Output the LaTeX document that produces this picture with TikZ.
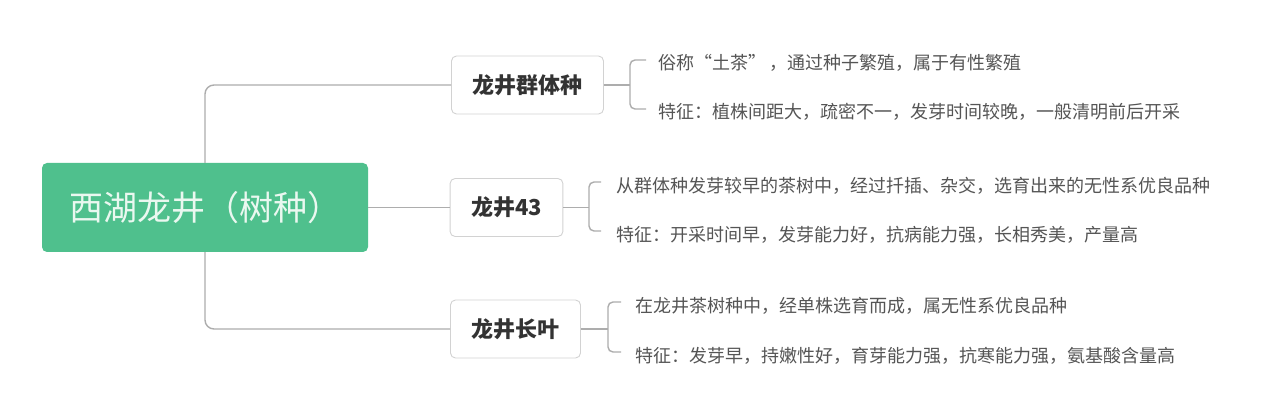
\documentclass[tikz,border=0pt]{standalone}
\usepackage{fontspec}
\setmainfont{Noto Sans CJK SC}
\definecolor{rootgreen}{HTML}{4FC08D}
\definecolor{roottext}{HTML}{EAF8F0}
\definecolor{linegray}{HTML}{ADADAD}
\definecolor{boxgray}{HTML}{D2D2D2}
\definecolor{childtext}{HTML}{333333}
\definecolor{leaftext}{HTML}{555555}
\tikzset{
  rootbox/.style={fill=rootgreen, draw=none, rounded corners=5pt, text=roottext,
    font=\fontsize{34}{40}\selectfont, minimum width=326pt, minimum height=89pt, inner sep=0pt},
  childbox/.style={draw=boxgray, line width=0.9pt, fill=white, rounded corners=5pt, text=childtext,
    font=\fontsize{22}{26}\selectfont\bfseries, minimum height=58pt, inner xsep=21pt, inner ysep=0pt},
  leaf/.style={anchor=west, text=leaftext, font=\fontsize{18}{22}\selectfont, inner sep=0pt},
  conn/.style={draw=linegray, line width=1.4pt},
}
\begin{document}
\begin{tikzpicture}[x=1pt, y=-1pt]
\useasboundingbox (0,0) rectangle (1280,414);
\fill[white] (0,0) rectangle (1280,414);

\node[rootbox] (root) at (205,207.5) {西湖龙井（树种）};

\node[childbox] (c1) at (527.5,85) {龙井群体种};
\node[childbox] (c2) at (506.5,207.5) {龙井43};
\node[childbox] (c3) at (515.5,329) {龙井长叶};

\draw[conn, rounded corners=9pt] (root.north) |- (c1.west);
\draw[conn] (root.east) -- (c2.west);
\draw[conn, rounded corners=9pt] (root.south) |- (c3.west);

% group 1
\node[leaf] (t1a) at (658,63) {俗称“土茶”\,，通过种子繁殖，属于有性繁殖};
\node[leaf] (t1b) at (658,112) {特征：植株间距大，疏密不一，发芽时间较晚，一般清明前后开采};
\coordinate (b1) at (630,85);
\draw[conn] (c1.east) -- (b1);
\draw[conn, rounded corners=5pt] ([xshift=-12pt,yshift=3pt]t1a.west) -| (b1) |- ([xshift=-12pt,yshift=3pt]t1b.west);

% group 2
\node[leaf] (t2a) at (616,186) {从群体种发芽较早的茶树中，经过扦插、杂交，选育出来的无性系优良品种};
\node[leaf] (t2b) at (616,235) {特征：开采时间早，发芽能力好，抗病能力强，长相秀美，产量高};
\coordinate (b2) at (589,207.5);
\draw[conn] (c2.east) -- (b2);
\draw[conn, rounded corners=5pt] ([xshift=-15pt,yshift=4pt]t2a.west) -| (b2) |- ([xshift=-15pt,yshift=4pt]t2b.west);

% group 3
\node[leaf] (t3a) at (635,306) {在龙井茶树种中，经单株选育而成，属无性系优良品种};
\node[leaf] (t3b) at (635,356) {特征：发芽早，持嫩性好，育芽能力强，抗寒能力强，氨基酸含量高};
\coordinate (b3) at (608,329);
\draw[conn] (c3.east) -- (b3);
\draw[conn, rounded corners=5pt] ([xshift=-14pt,yshift=4pt]t3a.west) -| (b3) |- ([xshift=-14pt,yshift=4pt]t3b.west);
\end{tikzpicture}
\end{document}
